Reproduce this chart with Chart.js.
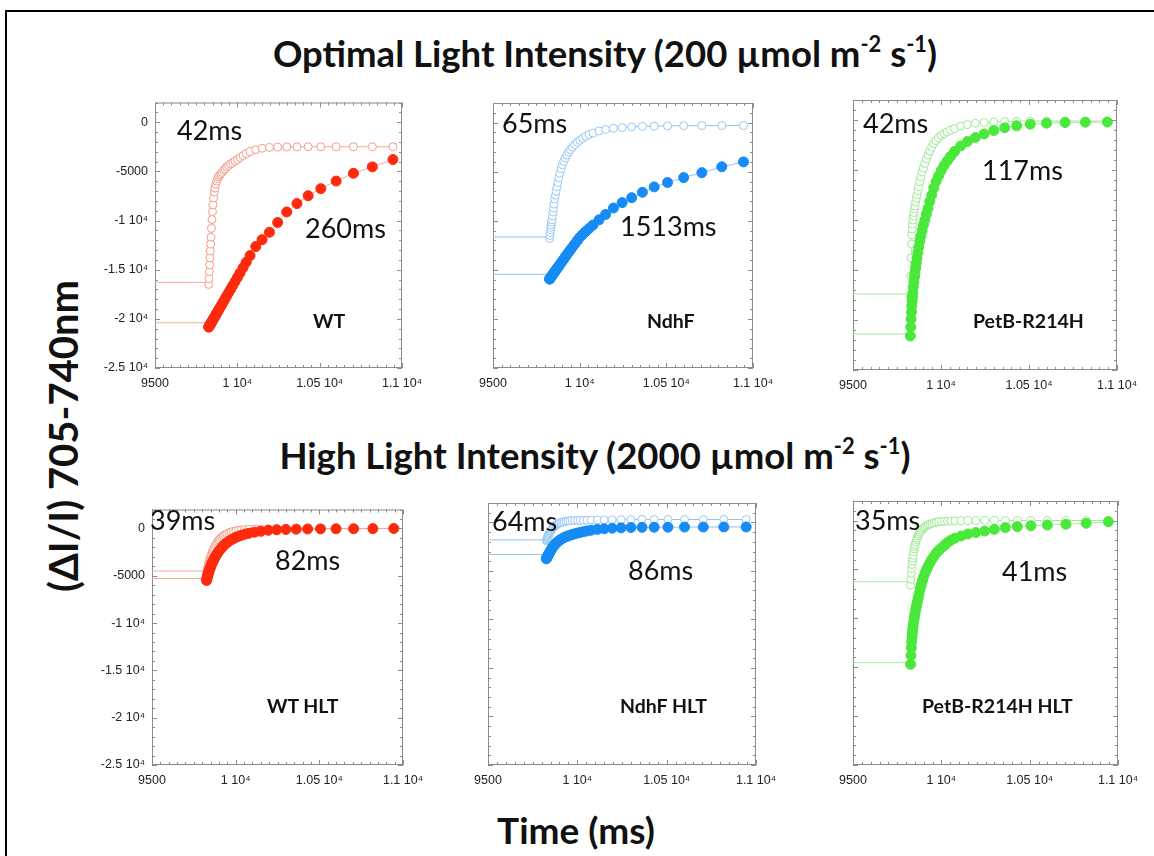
<!DOCTYPE html>
<html>
<head>
<meta charset="utf-8">
<title>Recuperación ΔI/I</title>
<script src="https://cdn.jsdelivr.net/npm/chart.js@4.4.1/dist/chart.umd.min.js"></script>
<style>
  body { margin: 0; background: #fff; width: 1154px; height: 856px; overflow: hidden; position: relative; font-family: Lato, "Open Sans", sans-serif; }
  .marco { position: absolute; left: 5px; top: 10px; width: 1200px; height: 900px; border: 2px solid #000; }
  .txt { position: absolute; white-space: nowrap; line-height: 1; color: #111; }
  .ms { font-size: 27px; }
  .cepa { font-size: 19.5px; font-weight: bold; }
  .titulo { font-size: 36.5px; font-weight: bold; transform: translateX(-50%); }
  .titulo sup { font-size: 0.6em; vertical-align: 0.7em; }
  .ejeY { font-size: 40px; font-weight: bold; transform: translate(-50%, -50%) rotate(-90deg); }
  .ejeX { font-size: 37px; font-weight: bold; transform: translateX(-50%); }
</style>
</head>
<body>
<div class="marco"></div>
<script>
// Tiempos de muestreo (ms), comunes a todas las trazas
const tiempos = [9826, 9828, 9830, 9832, 9834, 9836, 9838, 9840, 9843, 9846, 9849, 9852, 9856, 9860, 9864, 9869,
                 9874, 9880, 9886, 9893, 9900, 9908, 9917, 9926, 9936, 9947, 9959, 9972, 9986, 10001, 10017, 10035,
                 10054, 10077, 10112, 10150, 10195, 10245, 10300, 10362, 10430, 10507, 10600, 10705, 10820, 10945];
// Tramo de línea base antes del pulso
const tramoBase = [9500, 9822];

// Marcas de los ejes
const ticksX = [9500, 10000, 10500, 11000];
const etiquetasX = ['9500', '1 10⁴', '1.05 10⁴', '1.1 10⁴'];
const ticksY = [0, -5000, -10000, -15000, -20000, -25000];
const etiquetasY = ['0', '-5000', '-1 10⁴', '-1.5 10⁴', '-2 10⁴', '-2.5 10⁴'];

// Luz óptima (200 µmol m-2 s-1)
const wtAbiertoBase = -16300;
const wtAbierto = [-16500, -15900, -15200, -14500, -13800, -13100, -12400, -11700, -10800, -9900, -9100, -8400, -7700, -7100, -6700, -6300,
                   -6000, -5750, -5550, -5400, -5250, -5100, -4900, -4750, -4550, -4400, -4250, -4100, -3950, -3800, -3600, -3400,
                   -3200, -3000, -2800, -2650, -2570, -2540, -2520, -2510, -2500, -2500, -2500, -2500, -2500, -2500];
const wtLlenoBase = -20400;
const wtLleno = [-20850, -20790, -20730, -20680, -20620, -20560, -20500, -20440, -20360, -20270, -20180, -20100, -19980, -19860, -19750, -19600,
                 -19460, -19280, -19110, -18910, -18700, -18470, -18210, -17950, -17660, -17340, -16990, -16620, -16210, -15780, -15310, -14790,
                 -14240, -13570, -12650, -11950, -11200, -10200, -9130, -8280, -7480, -6760, -5990, -5200, -4550, -3800];

const ndhfAbiertoBase = -11650;
const ndhfAbierto = [-11800, -11500, -11200, -10900, -10650, -10400, -10150, -9900, -9500, -9100, -8700, -8300, -7800, -7400, -7000, -6550,
                     -6100, -5600, -5150, -4700, -4300, -3950, -3600, -3300, -3000, -2750, -2500, -2250, -2000, -1800, -1600, -1400,
                     -1220, -1060, -850, -700, -580, -500, -430, -380, -350, -330, -310, -300, -300, -300];
const ndhfLlenoBase = -15450;
const ndhfLleno = [-15950, -15900, -15850, -15800, -15750, -15700, -15650, -15600, -15520, -15450, -15370, -15300, -15200, -15100, -15000, -14870,
                   -14750, -14600, -14450, -14280, -14100, -13900, -13680, -13460, -13220, -12950, -12670, -12360, -12030, -11680, -11400, -11080,
                   -10780, -10430, -9900, -9350, -8700, -8150, -7650, -7100, -6550, -6100, -5600, -5100, -4500, -4000];

const petbAbiertoBase = -17400;
const petbAbierto = [-17600, -15600, -13800, -12400, -11500, -10900, -10400, -10000, -9600, -9250, -8900, -8600, -8200, -7850, -7500, -7050,
                     -6650, -6150, -5700, -5200, -4800, -4350, -3900, -3500, -3100, -2700, -2350, -2050, -1780, -1550, -1380, -1200,
                     -1020, -850, -600, -450, -330, -250, -200, -150, -120, -100, -100, -100, -100, -100];
const petbLlenoBase = -21400;
const petbLleno = [-21600, -20700, -19900, -19200, -18600, -18100, -17700, -17300, -16700, -16200, -15700, -15300, -14800, -14300, -13800, -13250,
                   -12700, -12100, -11600, -11050, -10500, -10000, -9400, -8850, -8150, -7500, -6800, -6150, -5600, -5050, -4550, -4100,
                   -3650, -3150, -2600, -2150, -1750, -1400, -1050, -780, -580, -420, -320, -250, -220, -200];

// Luz alta (2000 µmol m-2 s-1)
const wtHltAbiertoBase = -4500;
const wtHltAbierto = [-4900, -4700, -4500, -4300, -4100, -3950, -3800, -3650, -3450, -3250, -3050, -2900, -2700, -2500, -2350, -2150,
                      -1950, -1750, -1550, -1380, -1220, -1070, -920, -790, -670, -560, -460, -380, -310, -250, -200, -160,
                      -120, -90, -60, -40, -30, -20, -10, -10, 0, 0, 0, 0, 0, 0];
const wtHltLlenoBase = -5300;
const wtHltLleno = [-5500, -5350, -5200, -5050, -4900, -4780, -4660, -4550, -4400, -4250, -4100, -3970, -3800, -3640, -3490, -3310,
                    -3140, -2950, -2770, -2580, -2400, -2220, -2030, -1860, -1690, -1520, -1360, -1210, -1080, -950, -830, -720,
                    -620, -520, -400, -300, -200, -150, -110, -80, -60, -50, -40, -30, -20, -10];

const ndhfHltAbiertoBase = -1800;
const ndhfHltAbierto = [-1900, -1800, -1700, -1600, -1500, -1420, -1340, -1260, -1150, -1050, -950, -860, -750, -650, -560, -460,
                        -370, -280, -200, -130, -70, -10, 40, 80, 110, 140, 160, 180, 190, 200, 210, 220,
                        230, 240, 250, 260, 270, 280, 290, 300, 300, 300, 300, 300, 300, 300];
const ndhfHltLlenoBase = -3300;
const ndhfHltLleno = [-3750, -3680, -3610, -3540, -3470, -3400, -3330, -3260, -3160, -3060, -2960, -2870, -2750, -2640, -2530, -2400,
                      -2290, -2170, -2060, -1950, -1850, -1750, -1650, -1560, -1480, -1400, -1330, -1250, -1170, -1100, -1030, -950,
                      -880, -810, -720, -650, -600, -560, -530, -510, -500, -490, -480, -480, -470, -470];

const petbHltAbiertoBase = -6260;
const petbHltAbierto = [-6600, -6000, -5400, -4900, -4500, -4150, -3850, -3550, -3200, -2900, -2650, -2450, -2200, -1950, -1750, -1550,
                        -1380, -1200, -1030, -880, -750, -640, -530, -440, -360, -290, -230, -170, -130, -100, -80, -60,
                        -40, -30, -20, -10, 0, 0, 0, 0, 0, 0, 0, 0, 0, 0];
const petbHltLlenoBase = -14540;
const petbHltLleno = [-14700, -13800, -13000, -12400, -11900, -11500, -11150, -10850, -10450, -10050, -9700, -9400, -9000, -8650, -8300, -7900,
                      -7500, -7000, -6600, -6150, -5750, -5350, -4980, -4650, -4300, -3950, -3650, -3300, -3050, -2800, -2550, -2250,
                      -2020, -1800, -1580, -1380, -1230, -1080, -900, -720, -620, -530, -460, -380, -280, -120];

// Colores por cepa
const rojo = { lleno: '#ff2a0c', abierto: '#f59a88', linea: '#f6a898' };
const azul = { lleno: '#168bf5', abierto: '#96c8f5', linea: '#8ec2f2' };
const verde = { lleno: '#49e83a', abierto: '#9fe896', linea: '#a2e89b' };

// Paneles: posición del área de trazado y series
const paneles = [
  { x: 155, y: 98, ancho: 247, alto: 270, etiquetasY: true, color: rojo,
    abierto: [wtAbierto, wtAbiertoBase], lleno: [wtLleno, wtLlenoBase] },
  { x: 493, y: 103, ancho: 260, alto: 265, etiquetasY: false, color: azul,
    abierto: [ndhfAbierto, ndhfAbiertoBase], lleno: [ndhfLleno, ndhfLlenoBase] },
  { x: 853, y: 100, ancho: 264, alto: 270, etiquetasY: false, color: verde,
    abierto: [petbAbierto, petbAbiertoBase], lleno: [petbLleno, petbLlenoBase] },
  { x: 152, y: 505, ancho: 251, alto: 260, etiquetasY: true, color: rojo,
    abierto: [wtHltAbierto, wtHltAbiertoBase], lleno: [wtHltLleno, wtHltLlenoBase] },
  { x: 488, y: 503, ancho: 268, alto: 262, etiquetasY: false, color: azul,
    abierto: [ndhfHltAbierto, ndhfHltAbiertoBase], lleno: [ndhfHltLleno, ndhfHltLlenoBase] },
  { x: 853, y: 501, ancho: 265, alto: 264, etiquetasY: false, color: verde,
    abierto: [petbHltAbierto, petbHltAbiertoBase], lleno: [petbHltLleno, petbHltLlenoBase] }
];

// Textos sobre los paneles
const textos = [
  ['42ms', 177, 116, 'ms'], ['260ms', 305, 214, 'ms'], ['WT', 313, 311, 'cepa'],
  ['65ms', 502, 109, 'ms'], ['1513ms', 620, 212, 'ms'], ['NdhF', 647, 311, 'cepa'],
  ['42ms', 863, 109, 'ms'], ['117ms', 982, 156, 'ms'], ['PetB-R214H', 973, 311, 'cepa'],
  ['39ms', 150, 506, 'ms'], ['82ms', 275, 546, 'ms'], ['WT HLT', 267, 696, 'cepa'],
  ['64ms', 492, 507, 'ms'], ['86ms', 628, 556, 'ms'], ['NdhF HLT', 620, 696, 'cepa'],
  ['35ms', 855, 506, 'ms'], ['41ms', 1002, 557, 'ms'], ['PetB-R214H HLT', 922, 696, 'cepa']
];

// Marco gris con marcas hacia dentro en los cuatro lados
const marcoPlugin = {
  id: 'marco',
  beforeDatasetsDraw(chart) {
    const { ctx, chartArea: a, scales: { x, y } } = chart;
    ctx.save();
    ctx.strokeStyle = '#8c8c8c';
    ctx.lineWidth = 1;
    ctx.strokeRect(a.left + 0.5, a.top + 0.5, a.right - a.left - 1, a.bottom - a.top - 1);
    ctx.beginPath();
    for (let v = x.min; v <= x.max; v += 50) {
      const px = Math.round(x.getPixelForValue(v)) + 0.5;
      const l = ticksX.includes(v) ? 5 : 3;
      ctx.moveTo(px, a.bottom); ctx.lineTo(px, a.bottom - l);
      ctx.moveTo(px, a.top); ctx.lineTo(px, a.top + l);
    }
    for (let v = -25000; v <= y.max; v += 1000) {
      const py = Math.round(y.getPixelForValue(v)) + 0.5;
      const l = ticksY.includes(v) ? 5 : 3;
      ctx.moveTo(a.left, py); ctx.lineTo(a.left + l, py);
      ctx.moveTo(a.right, py); ctx.lineTo(a.right - l, py);
    }
    ctx.stroke();
    ctx.restore();
  }
};

// Construye una serie: tramo base sin marcadores y luego los puntos medidos
function serie(valores, base, linea, fondo, borde, radio, orden) {
  const puntos = [{ x: tramoBase[0], y: base }, { x: tramoBase[1], y: base }]
    .concat(tiempos.map((t, i) => ({ x: t, y: valores[i] })));
  return {
    data: puntos,
    showLine: true,
    borderColor: linea,
    borderWidth: 1,
    pointRadius: ctx => ctx.dataIndex < 2 ? 0 : radio,
    pointBackgroundColor: fondo,
    pointBorderColor: borde,
    pointBorderWidth: 1,
    order: orden
  };
}

function crearPanel(p) {
  const L = 60, R = 30, T = 10, B = 26;
  const canvas = document.createElement('canvas');
  canvas.width = p.ancho + L + R;
  canvas.height = p.alto + T + B;
  canvas.style.position = 'absolute';
  canvas.style.left = (p.x - L) + 'px';
  canvas.style.top = (p.y - T) + 'px';
  document.body.appendChild(canvas);

  const fuenteTicks = { family: 'Liberation Sans', size: 12.5 };
  new Chart(canvas, {
    type: 'scatter',
    data: {
      datasets: [
        serie(p.lleno[0], p.lleno[1], p.color.linea, p.color.lleno, p.color.lleno, 5, 0),
        serie(p.abierto[0], p.abierto[1], p.color.linea, '#ffffff', p.color.abierto, 4, 1)
      ]
    },
    options: {
      responsive: false,
      animation: false,
      events: [],
      layout: { padding: { top: T, right: R, left: 0, bottom: 0 }, autoPadding: false },
      plugins: { legend: { display: false }, tooltip: { enabled: false } },
      scales: {
        x: {
          type: 'linear', min: 9500, max: 11000,
          afterBuildTicks: s => { s.ticks = ticksX.map(v => ({ value: v })); },
          afterFit: s => { s.height = B; },
          grid: { display: false, drawTicks: false }, border: { display: false },
          ticks: { callback: v => etiquetasX[ticksX.indexOf(v)], font: fuenteTicks, color: '#222',
                   padding: 8, maxRotation: 0, autoSkip: false }
        },
        y: {
          type: 'linear', min: -25000, max: 2000,
          afterBuildTicks: s => { s.ticks = ticksY.map(v => ({ value: v })); },
          afterFit: s => { s.width = L; },
          grid: { display: false, drawTicks: false }, border: { display: false },
          ticks: { display: p.etiquetasY, callback: v => etiquetasY[ticksY.indexOf(v)], font: fuenteTicks,
                   color: '#222', padding: 7, autoSkip: false }
        }
      }
    },
    plugins: [marcoPlugin]
  });
}

function texto(html, x, y, clase) {
  const d = document.createElement('div');
  d.className = 'txt ' + clase;
  d.innerHTML = html;
  d.style.left = x + 'px';
  d.style.top = y + 'px';
  document.body.appendChild(d);
}

paneles.forEach(crearPanel);
textos.forEach(t => texto(t[0], t[1], t[2], t[3]));

texto('Optimal Light Intensity (200 µmol m<sup>-2</sup> s<sup>-1</sup>)', 605, 33, 'titulo');
texto('High Light Intensity (2000 µmol m<sup>-2</sup> s<sup>-1</sup>)', 595, 435, 'titulo');
texto('(ΔI/I) 705-740nm', 63, 436, 'ejeY');
texto('Time (ms)', 576, 811, 'ejeX');
</script>
</body>
</html>
